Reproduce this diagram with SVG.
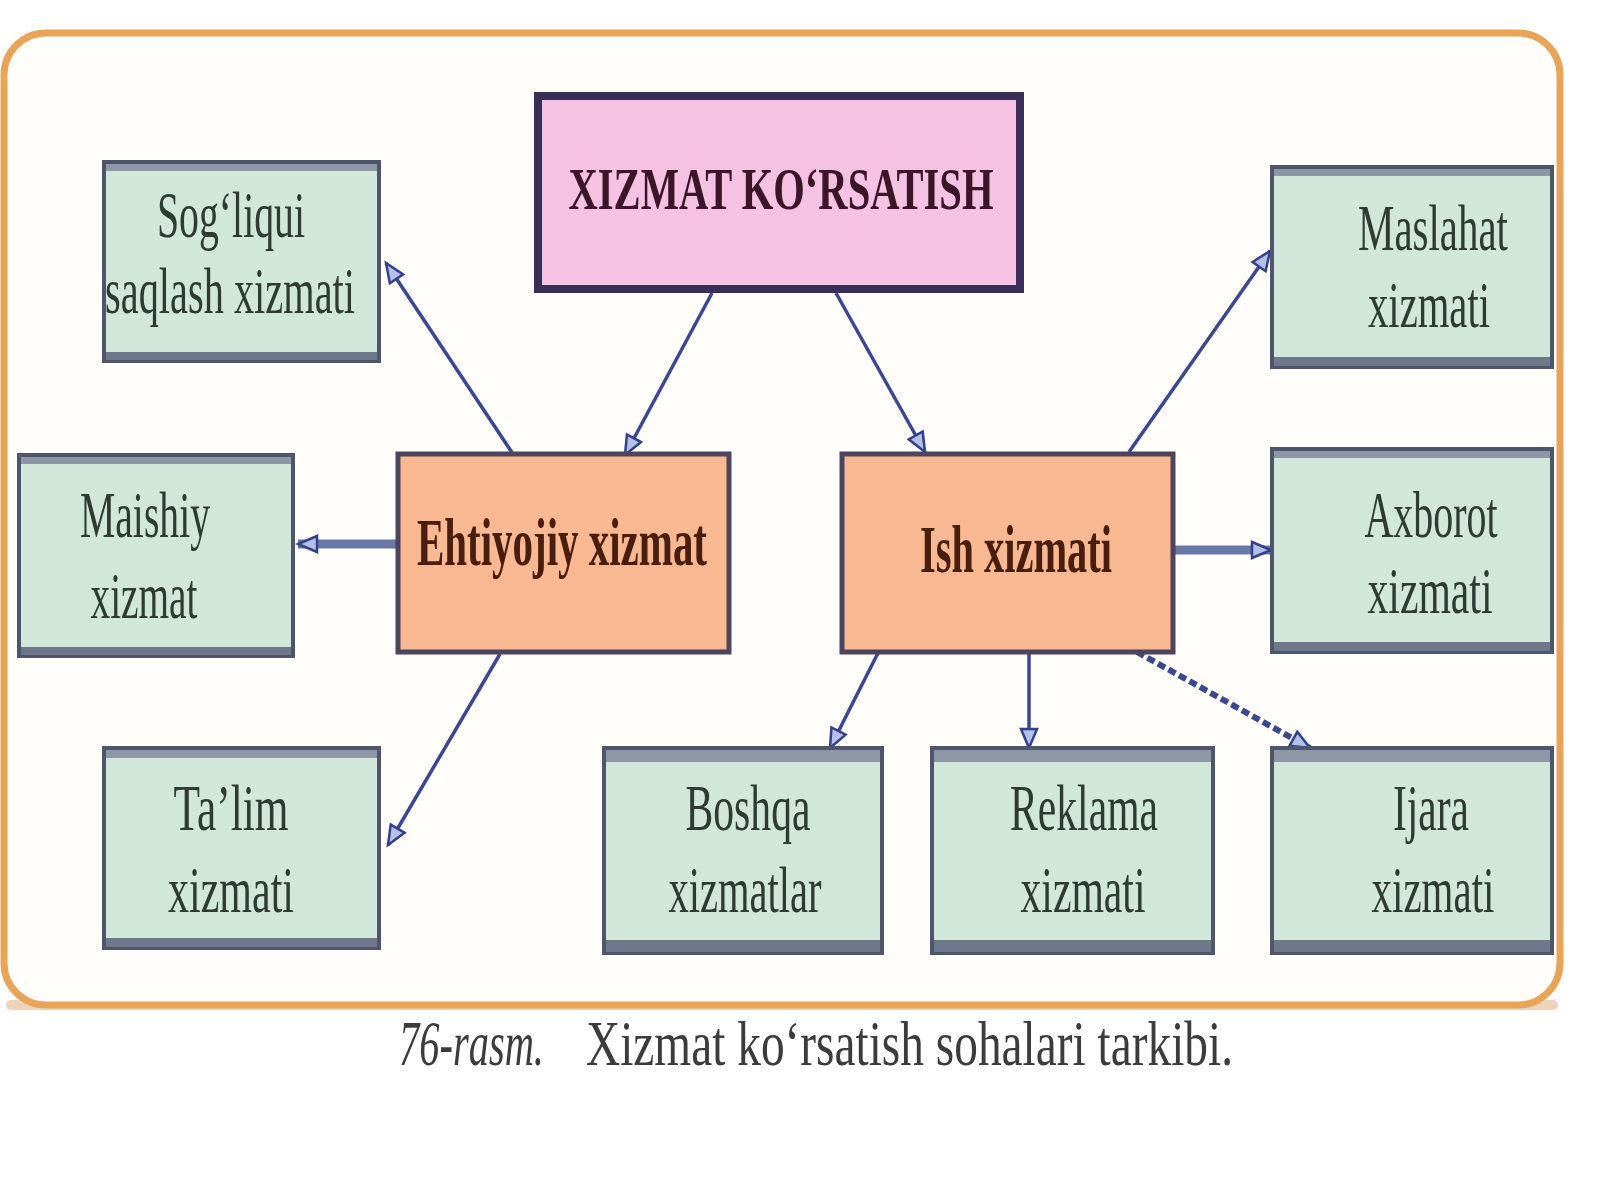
<svg xmlns="http://www.w3.org/2000/svg" width="1600" height="1200" viewBox="0 0 1600 1200">
  <style>
    .frame { fill: #fffefb; stroke: #e9a458; stroke-width: 7; }
    .green { fill: #d0e7da; stroke: #4d566c; stroke-width: 4; }
    .gtop { fill: #8e97a6; }
    .gbot { fill: #6f788a; }
    .orange { fill: #f8b892; stroke: #4c4560; stroke-width: 5; }
    .pink { fill: #f6c2e4; stroke: #392d5a; stroke-width: 8; }
    .gt { font-family: "Liberation Serif", "DejaVu Serif", serif; font-size: 66px; fill: #2e3a32; text-anchor: middle; }
    .bt { font-family: "Liberation Serif", "DejaVu Serif", serif; font-size: 68px; font-weight: bold; fill: #4a1e0e; text-anchor: middle; }
    .tt { font-family: "Liberation Serif", "DejaVu Serif", serif; font-size: 60px; font-weight: bold; fill: #3b1628; text-anchor: middle; }
    .cap { font-family: "Liberation Serif", "DejaVu Serif", serif; font-size: 52px; fill: #3c3c3c; text-anchor: start; }
    .thin { stroke: #3b4790; stroke-width: 3.5; fill: none; marker-end: url(#arr); }
    .thick { stroke: #6a78a8; stroke-width: 9; fill: none; marker-end: url(#arr); }
    .dots { stroke: #3b4790; stroke-width: 6; stroke-dasharray: 8 4; fill: none; marker-end: url(#arr); }
  </style>
  <defs>
    <marker id="arr" markerUnits="userSpaceOnUse" markerWidth="24" markerHeight="20" viewBox="0 0 24 20" refX="21" refY="10" orient="auto">
      <path d="M2,2 L21,10 L2,18 Z" fill="#b3c0ea" stroke="#34418a" stroke-width="2.5"/>
    </marker>
  </defs>
  <rect width="1600" height="1200" fill="#ffffff"/>
  <rect x="6" y="1000" width="1552" height="10" rx="5" fill="#d9a878" opacity="0.5"/>
  <rect class="frame" x="4" y="33" width="1556" height="972" rx="42"/>

  <g id="connectors">
    <line class="thin" x1="712" y1="293" x2="625" y2="455"/>
    <line class="thin" x1="836" y1="293" x2="925" y2="452"/>
    <line class="thin" x1="513" y1="454" x2="386" y2="263"/>
    <line class="thick" x1="396" y1="544" x2="298" y2="544"/>
    <line class="thin" x1="500" y1="654" x2="388" y2="845"/>
    <line class="thin" x1="1129" y1="452" x2="1270" y2="251"/>
    <line class="thick" x1="1173" y1="550" x2="1271" y2="550"/>
    <line class="thin" x1="878" y1="653" x2="830" y2="748"/>
    <line class="thin" x1="1029" y1="653" x2="1029" y2="748"/>
    <line class="dots" x1="1137" y1="652" x2="1310" y2="748"/>
  </g>

  <g id="xizmat-korsatish">
    <rect class="pink" x="538" y="96" width="482" height="193"/>
    <text class="tt" x="781" y="209" textLength="425" lengthAdjust="spacingAndGlyphs">XIZMAT KO‘RSATISH</text>
  </g>

  <g id="sogliqni">
    <rect class="green" x="104" y="162" width="275" height="199"/>
    <rect class="gtop" x="106" y="164" width="271" height="7"/>
    <rect class="gbot" x="106" y="352" width="271" height="8"/>
    <text class="gt" x="231" y="237" textLength="148" lengthAdjust="spacingAndGlyphs">Sog‘liqui</text>
    <text class="gt" x="230" y="313" textLength="250" lengthAdjust="spacingAndGlyphs">saqlash xizmati</text>
  </g>

  <g id="maishiy">
    <rect class="green" x="19" y="455" width="274" height="201"/>
    <rect class="gtop" x="21" y="457" width="270" height="7"/>
    <rect class="gbot" x="21" y="647" width="270" height="8"/>
    <text class="gt" x="145" y="537" textLength="130" lengthAdjust="spacingAndGlyphs">Maishiy</text>
    <text class="gt" x="144" y="618" textLength="107" lengthAdjust="spacingAndGlyphs">xizmat</text>
  </g>

  <g id="ehtiyojiy">
    <rect class="orange" x="398" y="454" width="331" height="198"/>
    <text class="bt" x="562" y="565" textLength="290" lengthAdjust="spacingAndGlyphs">Ehtiyojiy xizmat</text>
  </g>

  <g id="talim">
    <rect class="green" x="104" y="748" width="275" height="200"/>
    <rect class="gtop" x="106" y="750" width="271" height="8"/>
    <rect class="gbot" x="106" y="938" width="271" height="9"/>
    <text class="gt" x="231" y="830" textLength="115" lengthAdjust="spacingAndGlyphs">Ta’lim</text>
    <text class="gt" x="231" y="912" textLength="126" lengthAdjust="spacingAndGlyphs">xizmati</text>
  </g>

  <g id="ish">
    <rect class="orange" x="842" y="454" width="331" height="198"/>
    <text class="bt" x="1016" y="572" textLength="192" lengthAdjust="spacingAndGlyphs">Ish xizmati</text>
  </g>

  <g id="maslahat">
    <rect class="green" x="1272" y="167" width="280" height="200"/>
    <rect class="gtop" x="1274" y="169" width="276" height="7"/>
    <rect class="gbot" x="1274" y="357" width="276" height="9"/>
    <text class="gt" x="1433" y="250" textLength="150" lengthAdjust="spacingAndGlyphs">Maslahat</text>
    <text class="gt" x="1429" y="327" textLength="122" lengthAdjust="spacingAndGlyphs">xizmati</text>
  </g>

  <g id="axborot">
    <rect class="green" x="1272" y="449" width="280" height="203"/>
    <rect class="gtop" x="1274" y="451" width="276" height="7"/>
    <rect class="gbot" x="1274" y="642" width="276" height="9"/>
    <text class="gt" x="1431" y="537" textLength="133" lengthAdjust="spacingAndGlyphs">Axborot</text>
    <text class="gt" x="1430" y="613" textLength="125" lengthAdjust="spacingAndGlyphs">xizmati</text>
  </g>

  <g id="boshqa">
    <rect class="green" x="604" y="748" width="278" height="205"/>
    <rect class="gtop" x="606" y="750" width="274" height="12"/>
    <rect class="gbot" x="606" y="940" width="274" height="12"/>
    <text class="gt" x="748" y="830" textLength="125" lengthAdjust="spacingAndGlyphs">Boshqa</text>
    <text class="gt" x="745" y="912" textLength="153" lengthAdjust="spacingAndGlyphs">xizmatlar</text>
  </g>

  <g id="reklama">
    <rect class="green" x="932" y="748" width="281" height="205"/>
    <rect class="gtop" x="934" y="750" width="277" height="12"/>
    <rect class="gbot" x="934" y="940" width="277" height="12"/>
    <text class="gt" x="1084" y="830" textLength="148" lengthAdjust="spacingAndGlyphs">Reklama</text>
    <text class="gt" x="1083" y="912" textLength="125" lengthAdjust="spacingAndGlyphs">xizmati</text>
  </g>

  <g id="ijara">
    <rect class="green" x="1272" y="748" width="280" height="205"/>
    <rect class="gtop" x="1274" y="750" width="276" height="12"/>
    <rect class="gbot" x="1274" y="940" width="276" height="12"/>
    <text class="gt" x="1431" y="830" textLength="76" lengthAdjust="spacingAndGlyphs">Ijara</text>
    <text class="gt" x="1433" y="912" textLength="123" lengthAdjust="spacingAndGlyphs">xizmati</text>
  </g>

  <g id="caption" transform="translate(0,1065) scale(1,1.2)">
    <text class="cap" x="399" y="0" font-style="italic" textLength="145" lengthAdjust="spacingAndGlyphs">76-rasm.</text>
    <text class="cap" x="586" y="0" textLength="647" lengthAdjust="spacingAndGlyphs">Xizmat ko‘rsatish sohalari tarkibi.</text>
  </g>
</svg>
